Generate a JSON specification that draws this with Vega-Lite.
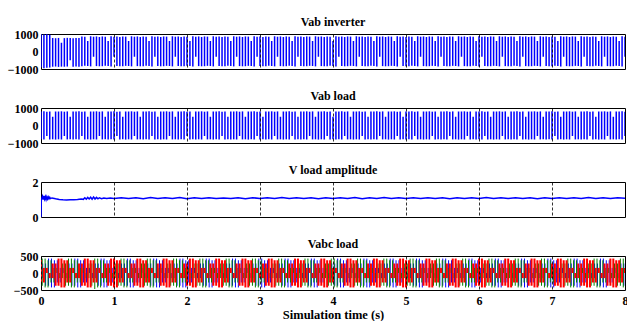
{
  "$schema": "https://vega.github.io/schema/vega-lite/v6.json",
  "padding": {"left": 6, "top": 15, "right": 0, "bottom": 0},
  "background": "white",
  "spacing": 13,
  "config": {
    "font": "Liberation Serif",
    "view": {"stroke": "black", "strokeWidth": 1},
    "axis": {"labelFont": "Liberation Serif", "titleFont": "Liberation Serif", "labelFontSize": 12, "labelFontWeight": "bold", "labelColor": "black", "titleFontSize": 12.5, "titleFontWeight": "bold", "titleColor": "black"},
    "title": {"font": "Liberation Serif", "fontSize": 12, "fontWeight": "bold", "color": "black", "offset": -1}
  },
  "datasets": {
    "w": [
{"t":0,"ah":990,"al":-900,"bh":800,"bl":-790,"ph":0,"pl":-150,"qh":425,"ql":-375,"rh":375,"rl":-280},
{"t":0.04,"ah":970,"al":-950,"bh":810,"bl":-800,"ph":280,"pl":-150,"qh":425,"ql":-425,"rh":150,"rl":-280},
{"t":0.08,"ah":985,"al":-930,"bh":790,"bl":-600,"ph":280,"pl":-375,"qh":375,"ql":-425,"rh":150,"rl":0},
{"t":0.12,"ah":960,"al":-920,"bh":805,"bl":-795,"ph":425,"pl":-375,"qh":375,"ql":-280,"rh":0,"rl":-150},
{"t":0.16,"ah":770,"al":-870,"bh":500,"bl":-790,"ph":425,"pl":-425,"qh":150,"ql":-280,"rh":280,"rl":-150},
{"t":0.2,"ah":760,"al":-860,"bh":800,"bl":-805,"ph":375,"pl":-425,"qh":150,"ql":0,"rh":280,"rl":-375},
{"t":0.24,"ah":775,"al":-880,"bh":800,"bl":-790,"ph":375,"pl":-280,"qh":0,"ql":-150,"rh":425,"rl":-375},
{"t":0.28,"ah":500,"al":-865,"bh":810,"bl":-800,"ph":150,"pl":-280,"qh":280,"ql":-150,"rh":425,"rl":-425},
{"t":0.32,"ah":765,"al":-870,"bh":790,"bl":-600,"ph":150,"pl":0,"qh":280,"ql":-375,"rh":375,"rl":-425},
{"t":0.36,"ah":780,"al":-860,"bh":805,"bl":-795,"ph":0,"pl":-150,"qh":425,"ql":-375,"rh":375,"rl":-280},
{"t":0.4,"ah":770,"al":-500,"bh":500,"bl":-790,"ph":280,"pl":-150,"qh":425,"ql":-425,"rh":150,"rl":-280},
{"t":0.44,"ah":760,"al":-875,"bh":800,"bl":-805,"ph":280,"pl":-375,"qh":375,"ql":-425,"rh":150,"rl":0},
{"t":0.48,"ah":775,"al":-860,"bh":800,"bl":-790,"ph":425,"pl":-375,"qh":375,"ql":-280,"rh":0,"rl":-150},
{"t":0.52,"ah":770,"al":-870,"bh":810,"bl":-800,"ph":425,"pl":-425,"qh":150,"ql":-280,"rh":280,"rl":-150},
{"t":0.56,"ah":860,"al":-840,"bh":790,"bl":-600,"ph":375,"pl":-425,"qh":150,"ql":0,"rh":280,"rl":-375},
{"t":0.6,"ah":850,"al":-820,"bh":805,"bl":-795,"ph":375,"pl":-280,"qh":0,"ql":-150,"rh":425,"rl":-375},
{"t":0.64,"ah":600,"al":-830,"bh":500,"bl":-790,"ph":150,"pl":-280,"qh":280,"ql":-150,"rh":425,"rl":-425},
{"t":0.68,"ah":870,"al":-850,"bh":800,"bl":-805,"ph":150,"pl":0,"qh":280,"ql":-375,"rh":375,"rl":-425},
{"t":0.72,"ah":845,"al":-300,"bh":800,"bl":-790,"ph":0,"pl":-150,"qh":425,"ql":-470,"rh":375,"rl":-280},
{"t":0.76,"ah":860,"al":-835,"bh":810,"bl":-800,"ph":280,"pl":-150,"qh":425,"ql":-425,"rh":150,"rl":-280},
{"t":0.8,"ah":830,"al":-845,"bh":790,"bl":-600,"ph":280,"pl":-375,"qh":375,"ql":-425,"rh":150,"rl":0},
{"t":0.84,"ah":860,"al":-840,"bh":805,"bl":-795,"ph":425,"pl":-375,"qh":375,"ql":-280,"rh":0,"rl":-150},
{"t":0.88,"ah":850,"al":-820,"bh":500,"bl":-790,"ph":425,"pl":-425,"qh":150,"ql":-280,"rh":280,"rl":-150},
{"t":0.92,"ah":600,"al":-830,"bh":800,"bl":-805,"ph":375,"pl":-425,"qh":150,"ql":0,"rh":280,"rl":-375},
{"t":0.96,"ah":870,"al":-850,"bh":800,"bl":-790,"ph":375,"pl":-280,"qh":0,"ql":-150,"rh":425,"rl":-375},
{"t":1,"ah":845,"al":-300,"bh":810,"bl":-800,"ph":150,"pl":-280,"qh":280,"ql":-150,"rh":425,"rl":-425},
{"t":1.04,"ah":860,"al":-835,"bh":790,"bl":-600,"ph":150,"pl":0,"qh":280,"ql":-375,"rh":375,"rl":-425},
{"t":1.08,"ah":830,"al":-845,"bh":805,"bl":-795,"ph":0,"pl":-150,"qh":425,"ql":-375,"rh":375,"rl":-280},
{"t":1.12,"ah":860,"al":-840,"bh":500,"bl":-790,"ph":280,"pl":-150,"qh":425,"ql":-425,"rh":150,"rl":-280},
{"t":1.16,"ah":850,"al":-820,"bh":800,"bl":-805,"ph":280,"pl":-375,"qh":375,"ql":-425,"rh":150,"rl":0},
{"t":1.2,"ah":600,"al":-830,"bh":800,"bl":-790,"ph":425,"pl":-375,"qh":375,"ql":-280,"rh":0,"rl":-150},
{"t":1.24,"ah":870,"al":-850,"bh":810,"bl":-800,"ph":425,"pl":-425,"qh":150,"ql":-280,"rh":280,"rl":-150},
{"t":1.28,"ah":845,"al":-300,"bh":790,"bl":-600,"ph":375,"pl":-425,"qh":150,"ql":0,"rh":280,"rl":-375},
{"t":1.32,"ah":860,"al":-835,"bh":805,"bl":-795,"ph":375,"pl":-280,"qh":0,"ql":-150,"rh":425,"rl":-375},
{"t":1.36,"ah":830,"al":-845,"bh":500,"bl":-790,"ph":150,"pl":-280,"qh":280,"ql":-150,"rh":425,"rl":-425},
{"t":1.4,"ah":860,"al":-840,"bh":800,"bl":-805,"ph":150,"pl":0,"qh":280,"ql":-375,"rh":375,"rl":-425},
{"t":1.44,"ah":850,"al":-820,"bh":800,"bl":-790,"ph":0,"pl":-150,"qh":425,"ql":-375,"rh":375,"rl":-280},
{"t":1.48,"ah":600,"al":-830,"bh":810,"bl":-800,"ph":280,"pl":-150,"qh":425,"ql":-425,"rh":150,"rl":-280},
{"t":1.52,"ah":870,"al":-850,"bh":790,"bl":-600,"ph":280,"pl":-375,"qh":375,"ql":-425,"rh":150,"rl":0},
{"t":1.56,"ah":845,"al":-300,"bh":805,"bl":-795,"ph":425,"pl":-375,"qh":375,"ql":-280,"rh":0,"rl":-150},
{"t":1.6,"ah":860,"al":-835,"bh":500,"bl":-790,"ph":425,"pl":-425,"qh":150,"ql":-280,"rh":280,"rl":-150},
{"t":1.64,"ah":830,"al":-845,"bh":800,"bl":-805,"ph":375,"pl":-425,"qh":150,"ql":0,"rh":280,"rl":-375},
{"t":1.68,"ah":860,"al":-840,"bh":800,"bl":-790,"ph":375,"pl":-280,"qh":0,"ql":-150,"rh":425,"rl":-375},
{"t":1.72,"ah":850,"al":-820,"bh":810,"bl":-800,"ph":150,"pl":-280,"qh":280,"ql":-150,"rh":425,"rl":-425},
{"t":1.76,"ah":600,"al":-830,"bh":790,"bl":-600,"ph":150,"pl":0,"qh":280,"ql":-375,"rh":375,"rl":-425},
{"t":1.8,"ah":870,"al":-850,"bh":805,"bl":-795,"ph":0,"pl":-150,"qh":425,"ql":-375,"rh":375,"rl":-280},
{"t":1.84,"ah":845,"al":-300,"bh":500,"bl":-790,"ph":280,"pl":-150,"qh":425,"ql":-425,"rh":150,"rl":-280},
{"t":1.88,"ah":860,"al":-835,"bh":800,"bl":-805,"ph":280,"pl":-375,"qh":375,"ql":-425,"rh":150,"rl":0},
{"t":1.92,"ah":830,"al":-845,"bh":800,"bl":-790,"ph":425,"pl":-375,"qh":375,"ql":-280,"rh":0,"rl":-150},
{"t":1.96,"ah":860,"al":-840,"bh":810,"bl":-800,"ph":425,"pl":-425,"qh":150,"ql":-280,"rh":280,"rl":-150},
{"t":2,"ah":850,"al":-820,"bh":790,"bl":-600,"ph":375,"pl":-425,"qh":150,"ql":0,"rh":280,"rl":-375},
{"t":2.04,"ah":600,"al":-830,"bh":805,"bl":-795,"ph":375,"pl":-280,"qh":0,"ql":-150,"rh":425,"rl":-375},
{"t":2.08,"ah":870,"al":-850,"bh":500,"bl":-790,"ph":150,"pl":-280,"qh":280,"ql":-150,"rh":425,"rl":-425},
{"t":2.12,"ah":845,"al":-300,"bh":800,"bl":-805,"ph":150,"pl":0,"qh":280,"ql":-375,"rh":375,"rl":-425},
{"t":2.16,"ah":860,"al":-835,"bh":800,"bl":-790,"ph":0,"pl":-150,"qh":425,"ql":-375,"rh":375,"rl":-280},
{"t":2.2,"ah":830,"al":-845,"bh":810,"bl":-800,"ph":280,"pl":-150,"qh":425,"ql":-425,"rh":150,"rl":-280},
{"t":2.24,"ah":860,"al":-840,"bh":790,"bl":-600,"ph":280,"pl":-375,"qh":375,"ql":-425,"rh":150,"rl":0},
{"t":2.28,"ah":850,"al":-820,"bh":805,"bl":-795,"ph":425,"pl":-375,"qh":375,"ql":-280,"rh":0,"rl":-150},
{"t":2.32,"ah":600,"al":-830,"bh":500,"bl":-790,"ph":425,"pl":-425,"qh":150,"ql":-280,"rh":280,"rl":-150},
{"t":2.36,"ah":870,"al":-850,"bh":800,"bl":-805,"ph":375,"pl":-425,"qh":150,"ql":0,"rh":280,"rl":-375},
{"t":2.4,"ah":845,"al":-300,"bh":800,"bl":-790,"ph":375,"pl":-280,"qh":0,"ql":-150,"rh":425,"rl":-375},
{"t":2.44,"ah":860,"al":-835,"bh":810,"bl":-800,"ph":150,"pl":-280,"qh":280,"ql":-150,"rh":425,"rl":-425},
{"t":2.48,"ah":830,"al":-845,"bh":790,"bl":-600,"ph":150,"pl":0,"qh":280,"ql":-375,"rh":375,"rl":-425},
{"t":2.52,"ah":860,"al":-840,"bh":805,"bl":-795,"ph":0,"pl":-150,"qh":425,"ql":-375,"rh":375,"rl":-280},
{"t":2.56,"ah":850,"al":-820,"bh":500,"bl":-790,"ph":280,"pl":-150,"qh":425,"ql":-425,"rh":150,"rl":-280},
{"t":2.6,"ah":600,"al":-830,"bh":800,"bl":-805,"ph":280,"pl":-375,"qh":375,"ql":-425,"rh":150,"rl":0},
{"t":2.64,"ah":870,"al":-850,"bh":800,"bl":-790,"ph":425,"pl":-375,"qh":375,"ql":-280,"rh":0,"rl":-150},
{"t":2.68,"ah":845,"al":-300,"bh":810,"bl":-800,"ph":425,"pl":-425,"qh":150,"ql":-280,"rh":280,"rl":-150},
{"t":2.72,"ah":860,"al":-835,"bh":790,"bl":-600,"ph":375,"pl":-425,"qh":150,"ql":0,"rh":280,"rl":-375},
{"t":2.76,"ah":830,"al":-845,"bh":805,"bl":-795,"ph":375,"pl":-280,"qh":0,"ql":-150,"rh":425,"rl":-375},
{"t":2.8,"ah":860,"al":-840,"bh":500,"bl":-790,"ph":150,"pl":-280,"qh":280,"ql":-150,"rh":425,"rl":-425},
{"t":2.84,"ah":850,"al":-820,"bh":800,"bl":-805,"ph":150,"pl":0,"qh":280,"ql":-375,"rh":375,"rl":-425},
{"t":2.88,"ah":600,"al":-830,"bh":800,"bl":-790,"ph":0,"pl":-150,"qh":425,"ql":-375,"rh":375,"rl":-280},
{"t":2.92,"ah":870,"al":-850,"bh":810,"bl":-800,"ph":280,"pl":-150,"qh":425,"ql":-425,"rh":150,"rl":-280},
{"t":2.96,"ah":845,"al":-300,"bh":790,"bl":-600,"ph":280,"pl":-375,"qh":375,"ql":-425,"rh":150,"rl":0},
{"t":3,"ah":860,"al":-835,"bh":805,"bl":-795,"ph":425,"pl":-375,"qh":375,"ql":-280,"rh":0,"rl":-150},
{"t":3.04,"ah":830,"al":-845,"bh":500,"bl":-790,"ph":425,"pl":-425,"qh":150,"ql":-280,"rh":280,"rl":-150},
{"t":3.08,"ah":860,"al":-840,"bh":800,"bl":-805,"ph":375,"pl":-425,"qh":150,"ql":0,"rh":280,"rl":-375},
{"t":3.12,"ah":850,"al":-820,"bh":800,"bl":-790,"ph":375,"pl":-280,"qh":0,"ql":-150,"rh":425,"rl":-375},
{"t":3.16,"ah":600,"al":-830,"bh":810,"bl":-800,"ph":150,"pl":-280,"qh":280,"ql":-150,"rh":425,"rl":-425},
{"t":3.2,"ah":870,"al":-850,"bh":790,"bl":-600,"ph":150,"pl":0,"qh":280,"ql":-375,"rh":375,"rl":-425},
{"t":3.24,"ah":845,"al":-300,"bh":805,"bl":-795,"ph":0,"pl":-150,"qh":425,"ql":-375,"rh":375,"rl":-280},
{"t":3.28,"ah":860,"al":-835,"bh":500,"bl":-790,"ph":280,"pl":-150,"qh":425,"ql":-425,"rh":150,"rl":-280},
{"t":3.32,"ah":830,"al":-845,"bh":800,"bl":-805,"ph":280,"pl":-375,"qh":375,"ql":-425,"rh":150,"rl":0},
{"t":3.36,"ah":860,"al":-840,"bh":800,"bl":-790,"ph":425,"pl":-375,"qh":375,"ql":-280,"rh":0,"rl":-150},
{"t":3.4,"ah":850,"al":-820,"bh":810,"bl":-800,"ph":425,"pl":-425,"qh":150,"ql":-280,"rh":280,"rl":-150},
{"t":3.44,"ah":600,"al":-830,"bh":790,"bl":-600,"ph":375,"pl":-425,"qh":150,"ql":0,"rh":280,"rl":-375},
{"t":3.48,"ah":870,"al":-850,"bh":805,"bl":-795,"ph":375,"pl":-280,"qh":0,"ql":-150,"rh":425,"rl":-375},
{"t":3.52,"ah":845,"al":-300,"bh":500,"bl":-790,"ph":150,"pl":-280,"qh":280,"ql":-150,"rh":425,"rl":-425},
{"t":3.56,"ah":860,"al":-835,"bh":800,"bl":-805,"ph":150,"pl":0,"qh":280,"ql":-375,"rh":375,"rl":-425},
{"t":3.6,"ah":830,"al":-845,"bh":800,"bl":-790,"ph":0,"pl":-150,"qh":425,"ql":-375,"rh":375,"rl":-280},
{"t":3.64,"ah":860,"al":-840,"bh":810,"bl":-800,"ph":280,"pl":-150,"qh":425,"ql":-425,"rh":150,"rl":-280},
{"t":3.68,"ah":850,"al":-820,"bh":790,"bl":-600,"ph":280,"pl":-375,"qh":375,"ql":-425,"rh":150,"rl":0},
{"t":3.72,"ah":600,"al":-830,"bh":805,"bl":-795,"ph":425,"pl":-375,"qh":375,"ql":-280,"rh":0,"rl":-150},
{"t":3.76,"ah":870,"al":-850,"bh":500,"bl":-790,"ph":425,"pl":-425,"qh":150,"ql":-280,"rh":280,"rl":-150},
{"t":3.8,"ah":845,"al":-300,"bh":800,"bl":-805,"ph":375,"pl":-425,"qh":150,"ql":0,"rh":280,"rl":-375},
{"t":3.84,"ah":860,"al":-835,"bh":800,"bl":-790,"ph":375,"pl":-280,"qh":0,"ql":-150,"rh":425,"rl":-375},
{"t":3.88,"ah":830,"al":-845,"bh":810,"bl":-800,"ph":150,"pl":-280,"qh":280,"ql":-150,"rh":425,"rl":-425},
{"t":3.92,"ah":860,"al":-840,"bh":790,"bl":-600,"ph":150,"pl":0,"qh":280,"ql":-375,"rh":375,"rl":-425},
{"t":3.96,"ah":850,"al":-820,"bh":805,"bl":-795,"ph":0,"pl":-150,"qh":425,"ql":-375,"rh":375,"rl":-280},
{"t":4,"ah":600,"al":-830,"bh":500,"bl":-790,"ph":280,"pl":-150,"qh":425,"ql":-425,"rh":150,"rl":-280},
{"t":4.04,"ah":870,"al":-850,"bh":800,"bl":-805,"ph":280,"pl":-375,"qh":375,"ql":-425,"rh":150,"rl":0},
{"t":4.08,"ah":845,"al":-300,"bh":800,"bl":-790,"ph":425,"pl":-375,"qh":375,"ql":-280,"rh":0,"rl":-150},
{"t":4.12,"ah":860,"al":-835,"bh":810,"bl":-800,"ph":425,"pl":-425,"qh":150,"ql":-280,"rh":280,"rl":-150},
{"t":4.16,"ah":830,"al":-845,"bh":790,"bl":-600,"ph":375,"pl":-425,"qh":150,"ql":0,"rh":280,"rl":-375},
{"t":4.2,"ah":860,"al":-840,"bh":805,"bl":-795,"ph":375,"pl":-280,"qh":0,"ql":-150,"rh":425,"rl":-375},
{"t":4.24,"ah":850,"al":-820,"bh":500,"bl":-790,"ph":150,"pl":-280,"qh":280,"ql":-150,"rh":425,"rl":-425},
{"t":4.28,"ah":600,"al":-830,"bh":800,"bl":-805,"ph":150,"pl":0,"qh":280,"ql":-375,"rh":375,"rl":-425},
{"t":4.32,"ah":870,"al":-850,"bh":800,"bl":-790,"ph":0,"pl":-150,"qh":425,"ql":-375,"rh":375,"rl":-280},
{"t":4.36,"ah":845,"al":-300,"bh":810,"bl":-800,"ph":280,"pl":-150,"qh":425,"ql":-425,"rh":150,"rl":-280},
{"t":4.4,"ah":860,"al":-835,"bh":790,"bl":-600,"ph":280,"pl":-375,"qh":375,"ql":-425,"rh":150,"rl":0},
{"t":4.44,"ah":830,"al":-845,"bh":805,"bl":-795,"ph":425,"pl":-375,"qh":375,"ql":-280,"rh":0,"rl":-150},
{"t":4.48,"ah":860,"al":-840,"bh":500,"bl":-790,"ph":425,"pl":-425,"qh":150,"ql":-280,"rh":280,"rl":-150},
{"t":4.52,"ah":850,"al":-820,"bh":800,"bl":-805,"ph":375,"pl":-425,"qh":150,"ql":0,"rh":280,"rl":-375},
{"t":4.56,"ah":600,"al":-830,"bh":800,"bl":-790,"ph":375,"pl":-280,"qh":0,"ql":-150,"rh":425,"rl":-375},
{"t":4.6,"ah":870,"al":-850,"bh":810,"bl":-800,"ph":150,"pl":-280,"qh":280,"ql":-150,"rh":425,"rl":-425},
{"t":4.64,"ah":845,"al":-300,"bh":790,"bl":-600,"ph":150,"pl":0,"qh":280,"ql":-375,"rh":375,"rl":-425},
{"t":4.68,"ah":860,"al":-835,"bh":805,"bl":-795,"ph":0,"pl":-150,"qh":425,"ql":-375,"rh":375,"rl":-280},
{"t":4.72,"ah":830,"al":-845,"bh":500,"bl":-790,"ph":280,"pl":-150,"qh":425,"ql":-425,"rh":150,"rl":-280},
{"t":4.76,"ah":860,"al":-840,"bh":800,"bl":-805,"ph":280,"pl":-375,"qh":375,"ql":-425,"rh":150,"rl":0},
{"t":4.8,"ah":850,"al":-820,"bh":800,"bl":-790,"ph":425,"pl":-375,"qh":375,"ql":-280,"rh":0,"rl":-150},
{"t":4.84,"ah":600,"al":-830,"bh":810,"bl":-800,"ph":425,"pl":-425,"qh":150,"ql":-280,"rh":280,"rl":-150},
{"t":4.88,"ah":870,"al":-850,"bh":790,"bl":-600,"ph":375,"pl":-425,"qh":150,"ql":0,"rh":280,"rl":-375},
{"t":4.92,"ah":845,"al":-300,"bh":805,"bl":-795,"ph":375,"pl":-280,"qh":0,"ql":-150,"rh":425,"rl":-375},
{"t":4.96,"ah":860,"al":-835,"bh":500,"bl":-790,"ph":150,"pl":-280,"qh":280,"ql":-150,"rh":425,"rl":-425},
{"t":5,"ah":830,"al":-845,"bh":800,"bl":-805,"ph":150,"pl":0,"qh":280,"ql":-375,"rh":375,"rl":-425},
{"t":5.04,"ah":860,"al":-840,"bh":800,"bl":-790,"ph":0,"pl":-150,"qh":425,"ql":-375,"rh":375,"rl":-280},
{"t":5.08,"ah":850,"al":-820,"bh":810,"bl":-800,"ph":280,"pl":-150,"qh":425,"ql":-425,"rh":150,"rl":-280},
{"t":5.12,"ah":600,"al":-830,"bh":790,"bl":-600,"ph":280,"pl":-375,"qh":375,"ql":-425,"rh":150,"rl":0},
{"t":5.16,"ah":870,"al":-850,"bh":805,"bl":-795,"ph":425,"pl":-375,"qh":375,"ql":-280,"rh":0,"rl":-150},
{"t":5.2,"ah":845,"al":-300,"bh":500,"bl":-790,"ph":425,"pl":-425,"qh":150,"ql":-280,"rh":280,"rl":-150},
{"t":5.24,"ah":860,"al":-835,"bh":800,"bl":-805,"ph":375,"pl":-425,"qh":150,"ql":0,"rh":280,"rl":-375},
{"t":5.28,"ah":830,"al":-845,"bh":800,"bl":-790,"ph":375,"pl":-280,"qh":0,"ql":-150,"rh":425,"rl":-375},
{"t":5.32,"ah":860,"al":-840,"bh":810,"bl":-800,"ph":150,"pl":-280,"qh":280,"ql":-150,"rh":425,"rl":-425},
{"t":5.36,"ah":850,"al":-820,"bh":790,"bl":-600,"ph":150,"pl":0,"qh":280,"ql":-375,"rh":375,"rl":-425},
{"t":5.4,"ah":600,"al":-830,"bh":805,"bl":-795,"ph":0,"pl":-150,"qh":425,"ql":-375,"rh":375,"rl":-280},
{"t":5.44,"ah":870,"al":-850,"bh":500,"bl":-790,"ph":280,"pl":-150,"qh":425,"ql":-425,"rh":150,"rl":-280},
{"t":5.48,"ah":845,"al":-300,"bh":800,"bl":-805,"ph":280,"pl":-375,"qh":375,"ql":-425,"rh":150,"rl":0},
{"t":5.52,"ah":860,"al":-835,"bh":800,"bl":-790,"ph":425,"pl":-375,"qh":375,"ql":-280,"rh":0,"rl":-150},
{"t":5.56,"ah":830,"al":-845,"bh":810,"bl":-800,"ph":425,"pl":-425,"qh":150,"ql":-280,"rh":280,"rl":-150},
{"t":5.6,"ah":860,"al":-840,"bh":790,"bl":-600,"ph":375,"pl":-425,"qh":150,"ql":0,"rh":280,"rl":-375},
{"t":5.64,"ah":850,"al":-820,"bh":805,"bl":-795,"ph":375,"pl":-280,"qh":0,"ql":-150,"rh":425,"rl":-375},
{"t":5.68,"ah":600,"al":-830,"bh":500,"bl":-790,"ph":150,"pl":-280,"qh":280,"ql":-150,"rh":425,"rl":-425},
{"t":5.72,"ah":870,"al":-850,"bh":800,"bl":-805,"ph":150,"pl":0,"qh":280,"ql":-375,"rh":375,"rl":-425},
{"t":5.76,"ah":845,"al":-300,"bh":800,"bl":-790,"ph":0,"pl":-150,"qh":425,"ql":-375,"rh":375,"rl":-280},
{"t":5.8,"ah":860,"al":-835,"bh":810,"bl":-800,"ph":280,"pl":-150,"qh":425,"ql":-425,"rh":150,"rl":-280},
{"t":5.84,"ah":830,"al":-845,"bh":790,"bl":-600,"ph":280,"pl":-375,"qh":375,"ql":-425,"rh":150,"rl":0},
{"t":5.88,"ah":860,"al":-840,"bh":805,"bl":-795,"ph":425,"pl":-375,"qh":375,"ql":-280,"rh":0,"rl":-150},
{"t":5.92,"ah":850,"al":-820,"bh":500,"bl":-790,"ph":425,"pl":-425,"qh":150,"ql":-280,"rh":280,"rl":-150},
{"t":5.96,"ah":600,"al":-830,"bh":800,"bl":-805,"ph":375,"pl":-425,"qh":150,"ql":0,"rh":280,"rl":-375},
{"t":6,"ah":870,"al":-850,"bh":800,"bl":-790,"ph":375,"pl":-280,"qh":0,"ql":-150,"rh":425,"rl":-375},
{"t":6.04,"ah":845,"al":-300,"bh":810,"bl":-800,"ph":150,"pl":-280,"qh":280,"ql":-150,"rh":425,"rl":-425},
{"t":6.08,"ah":860,"al":-835,"bh":790,"bl":-600,"ph":150,"pl":0,"qh":280,"ql":-375,"rh":375,"rl":-425},
{"t":6.12,"ah":830,"al":-845,"bh":805,"bl":-795,"ph":0,"pl":-150,"qh":425,"ql":-375,"rh":375,"rl":-280},
{"t":6.16,"ah":860,"al":-840,"bh":500,"bl":-790,"ph":280,"pl":-150,"qh":425,"ql":-425,"rh":150,"rl":-280},
{"t":6.2,"ah":850,"al":-820,"bh":800,"bl":-805,"ph":280,"pl":-375,"qh":375,"ql":-425,"rh":150,"rl":0},
{"t":6.24,"ah":600,"al":-830,"bh":800,"bl":-790,"ph":425,"pl":-375,"qh":375,"ql":-280,"rh":0,"rl":-150},
{"t":6.28,"ah":870,"al":-850,"bh":810,"bl":-800,"ph":425,"pl":-425,"qh":150,"ql":-280,"rh":280,"rl":-150},
{"t":6.32,"ah":845,"al":-300,"bh":790,"bl":-600,"ph":375,"pl":-425,"qh":150,"ql":0,"rh":280,"rl":-375},
{"t":6.36,"ah":860,"al":-835,"bh":805,"bl":-795,"ph":375,"pl":-280,"qh":0,"ql":-150,"rh":425,"rl":-375},
{"t":6.4,"ah":830,"al":-845,"bh":500,"bl":-790,"ph":150,"pl":-280,"qh":280,"ql":-150,"rh":425,"rl":-425},
{"t":6.44,"ah":860,"al":-840,"bh":800,"bl":-805,"ph":150,"pl":0,"qh":280,"ql":-375,"rh":375,"rl":-425},
{"t":6.48,"ah":850,"al":-820,"bh":800,"bl":-790,"ph":0,"pl":-150,"qh":425,"ql":-375,"rh":375,"rl":-280},
{"t":6.52,"ah":600,"al":-830,"bh":810,"bl":-800,"ph":280,"pl":-150,"qh":425,"ql":-425,"rh":150,"rl":-280},
{"t":6.56,"ah":870,"al":-850,"bh":790,"bl":-600,"ph":280,"pl":-375,"qh":375,"ql":-425,"rh":150,"rl":0},
{"t":6.6,"ah":845,"al":-300,"bh":805,"bl":-795,"ph":425,"pl":-375,"qh":375,"ql":-280,"rh":0,"rl":-150},
{"t":6.64,"ah":860,"al":-835,"bh":500,"bl":-790,"ph":425,"pl":-425,"qh":150,"ql":-280,"rh":280,"rl":-150},
{"t":6.68,"ah":830,"al":-845,"bh":800,"bl":-805,"ph":375,"pl":-425,"qh":150,"ql":0,"rh":280,"rl":-375},
{"t":6.72,"ah":860,"al":-840,"bh":800,"bl":-790,"ph":375,"pl":-280,"qh":0,"ql":-150,"rh":425,"rl":-375},
{"t":6.76,"ah":850,"al":-820,"bh":810,"bl":-800,"ph":150,"pl":-280,"qh":280,"ql":-150,"rh":425,"rl":-425},
{"t":6.8,"ah":600,"al":-830,"bh":790,"bl":-600,"ph":150,"pl":0,"qh":280,"ql":-375,"rh":375,"rl":-425},
{"t":6.84,"ah":870,"al":-850,"bh":805,"bl":-795,"ph":0,"pl":-150,"qh":425,"ql":-375,"rh":375,"rl":-280},
{"t":6.88,"ah":845,"al":-300,"bh":500,"bl":-790,"ph":280,"pl":-150,"qh":425,"ql":-425,"rh":150,"rl":-280},
{"t":6.92,"ah":860,"al":-835,"bh":800,"bl":-805,"ph":280,"pl":-375,"qh":375,"ql":-425,"rh":150,"rl":0},
{"t":6.96,"ah":830,"al":-845,"bh":800,"bl":-790,"ph":425,"pl":-375,"qh":375,"ql":-280,"rh":0,"rl":-150},
{"t":7,"ah":860,"al":-840,"bh":810,"bl":-800,"ph":425,"pl":-425,"qh":150,"ql":-280,"rh":280,"rl":-150},
{"t":7.04,"ah":850,"al":-820,"bh":790,"bl":-600,"ph":375,"pl":-425,"qh":150,"ql":0,"rh":280,"rl":-375},
{"t":7.08,"ah":600,"al":-830,"bh":805,"bl":-795,"ph":375,"pl":-280,"qh":0,"ql":-150,"rh":425,"rl":-375},
{"t":7.12,"ah":870,"al":-850,"bh":500,"bl":-790,"ph":150,"pl":-280,"qh":280,"ql":-150,"rh":425,"rl":-425},
{"t":7.16,"ah":845,"al":-300,"bh":800,"bl":-805,"ph":150,"pl":0,"qh":280,"ql":-375,"rh":375,"rl":-425},
{"t":7.2,"ah":860,"al":-835,"bh":800,"bl":-790,"ph":0,"pl":-150,"qh":425,"ql":-375,"rh":375,"rl":-280},
{"t":7.24,"ah":830,"al":-845,"bh":810,"bl":-800,"ph":280,"pl":-150,"qh":425,"ql":-425,"rh":150,"rl":-280},
{"t":7.28,"ah":860,"al":-840,"bh":790,"bl":-600,"ph":280,"pl":-375,"qh":375,"ql":-425,"rh":150,"rl":0},
{"t":7.32,"ah":850,"al":-820,"bh":805,"bl":-795,"ph":425,"pl":-375,"qh":375,"ql":-280,"rh":0,"rl":-150},
{"t":7.36,"ah":600,"al":-830,"bh":500,"bl":-790,"ph":425,"pl":-425,"qh":150,"ql":-280,"rh":280,"rl":-150},
{"t":7.4,"ah":870,"al":-850,"bh":800,"bl":-805,"ph":375,"pl":-425,"qh":150,"ql":0,"rh":280,"rl":-375},
{"t":7.44,"ah":845,"al":-300,"bh":800,"bl":-790,"ph":375,"pl":-280,"qh":0,"ql":-150,"rh":425,"rl":-375},
{"t":7.48,"ah":860,"al":-835,"bh":810,"bl":-800,"ph":150,"pl":-280,"qh":280,"ql":-150,"rh":425,"rl":-425},
{"t":7.52,"ah":830,"al":-845,"bh":790,"bl":-600,"ph":150,"pl":0,"qh":280,"ql":-375,"rh":375,"rl":-425},
{"t":7.56,"ah":860,"al":-840,"bh":805,"bl":-795,"ph":0,"pl":-150,"qh":425,"ql":-375,"rh":375,"rl":-280},
{"t":7.6,"ah":850,"al":-820,"bh":500,"bl":-790,"ph":280,"pl":-150,"qh":425,"ql":-425,"rh":150,"rl":-280},
{"t":7.64,"ah":600,"al":-830,"bh":800,"bl":-805,"ph":280,"pl":-375,"qh":375,"ql":-425,"rh":150,"rl":0},
{"t":7.68,"ah":870,"al":-850,"bh":800,"bl":-790,"ph":425,"pl":-375,"qh":375,"ql":-280,"rh":0,"rl":-150},
{"t":7.72,"ah":845,"al":-300,"bh":810,"bl":-800,"ph":425,"pl":-425,"qh":150,"ql":-280,"rh":280,"rl":-150},
{"t":7.76,"ah":860,"al":-835,"bh":790,"bl":-600,"ph":375,"pl":-425,"qh":150,"ql":0,"rh":280,"rl":-375},
{"t":7.8,"ah":830,"al":-845,"bh":805,"bl":-795,"ph":375,"pl":-280,"qh":0,"ql":-150,"rh":425,"rl":-375},
{"t":7.84,"ah":860,"al":-840,"bh":500,"bl":-790,"ph":150,"pl":-280,"qh":280,"ql":-150,"rh":425,"rl":-425},
{"t":7.88,"ah":850,"al":-820,"bh":800,"bl":-805,"ph":150,"pl":0,"qh":280,"ql":-375,"rh":375,"rl":-425},
{"t":7.92,"ah":600,"al":-830,"bh":800,"bl":-790,"ph":0,"pl":-150,"qh":425,"ql":-375,"rh":375,"rl":-280},
{"t":7.96,"ah":870,"al":-850,"bh":810,"bl":-800,"ph":280,"pl":-150,"qh":425,"ql":-425,"rh":150,"rl":-280},
{"t":8,"ah":845,"al":-300,"bh":790,"bl":-600,"ph":280,"pl":-375,"qh":375,"ql":-425,"rh":150,"rl":0}
    ],
    "amp": [
      {"t":0,"v":0},{"t":0.005,"v":1.1},{"t":0.01,"v":1.05},{"t":0.02,"v":1.18},{"t":0.03,"v":1.0},
      {"t":0.04,"v":1.2},{"t":0.05,"v":1.02},{"t":0.06,"v":1.16},{"t":0.07,"v":1.0},{"t":0.08,"v":1.15},
      {"t":0.09,"v":1.03},{"t":0.1,"v":1.14},{"t":0.11,"v":1.04},{"t":0.12,"v":1.12},{"t":0.13,"v":1.05},
      {"t":0.15,"v":1.09},{"t":0.2,"v":1.04},{"t":0.25,"v":1.0},{"t":0.3,"v":0.98},{"t":0.35,"v":0.97},
      {"t":0.4,"v":0.98},{"t":0.45,"v":0.99},{"t":0.5,"v":1.0},{"t":0.55,"v":1.03},{"t":0.58,"v":1.01},
      {"t":0.6,"v":1.1},{"t":0.62,"v":1.02},{"t":0.64,"v":1.12},{"t":0.66,"v":1.03},{"t":0.68,"v":1.13},
      {"t":0.7,"v":1.02},{"t":0.72,"v":1.14},{"t":0.74,"v":1.03},{"t":0.76,"v":1.12},{"t":0.78,"v":1.04},
      {"t":0.8,"v":1.1},{"t":0.83,"v":1.05},{"t":0.86,"v":1.09},{"t":0.9,"v":1.06},{"t":0.95,"v":1.09},
      {"t":1.0,"v":1.06},{"t":1.1,"v":1.1},{"t":1.2,"v":1.06},{"t":1.3,"v":1.1},{"t":1.4,"v":1.05},
      {"t":1.5,"v":1.11},{"t":1.6,"v":1.06},{"t":1.7,"v":1.1},{"t":1.8,"v":1.06},{"t":1.9,"v":1.12},
      {"t":2.0,"v":1.05},{"t":2.1,"v":1.1},{"t":2.2,"v":1.06},{"t":2.3,"v":1.1},{"t":2.4,"v":1.06},
      {"t":2.5,"v":1.09},{"t":2.6,"v":1.06},{"t":2.7,"v":1.1},{"t":2.8,"v":1.05},{"t":2.9,"v":1.1},
      {"t":3.0,"v":1.06},{"t":3.1,"v":1.1},{"t":3.2,"v":1.06},{"t":3.3,"v":1.11},{"t":3.4,"v":1.06},
      {"t":3.5,"v":1.1},{"t":3.6,"v":1.06},{"t":3.7,"v":1.1},{"t":3.8,"v":1.05},{"t":3.9,"v":1.1},
      {"t":4.0,"v":1.06},{"t":4.1,"v":1.1},{"t":4.2,"v":1.06},{"t":4.3,"v":1.12},{"t":4.4,"v":1.05},
      {"t":4.5,"v":1.1},{"t":4.6,"v":1.06},{"t":4.7,"v":1.11},{"t":4.8,"v":1.06},{"t":4.9,"v":1.1},
      {"t":5.0,"v":1.06},{"t":5.1,"v":1.1},{"t":5.2,"v":1.06},{"t":5.3,"v":1.1},{"t":5.4,"v":1.06},
      {"t":5.5,"v":1.1},{"t":5.6,"v":1.05},{"t":5.7,"v":1.1},{"t":5.8,"v":1.06},{"t":5.9,"v":1.1},
      {"t":6.0,"v":1.06},{"t":6.1,"v":1.11},{"t":6.2,"v":1.06},{"t":6.3,"v":1.1},{"t":6.4,"v":1.06},
      {"t":6.5,"v":1.1},{"t":6.6,"v":1.06},{"t":6.7,"v":1.1},{"t":6.8,"v":1.05},{"t":6.9,"v":1.1},
      {"t":7.0,"v":1.06},{"t":7.1,"v":1.1},{"t":7.2,"v":1.06},{"t":7.3,"v":1.1},{"t":7.4,"v":1.06},
      {"t":7.5,"v":1.11},{"t":7.6,"v":1.06},{"t":7.7,"v":1.1},{"t":7.8,"v":1.06},{"t":7.9,"v":1.1},
      {"t":8.0,"v":1.07}
    ]
  },
  "vconcat": [
    {
      "title": "Vab inverter",
      "width": 584, "height": 35,
      "data": {"name": "w"},
      "mark": {"type": "rule", "color": "#0000ff", "strokeWidth": 1.5, "clip": true},
      "encoding": {
        "x": {"field": "t", "type": "quantitative", "scale": {"domain": [0, 8], "nice": false},
              "axis": {"labels": false, "ticks": false, "domain": false, "title": null, "labelPadding": 0, "tickSize": 0, "grid": true, "gridColor": "black", "gridDash": [3, 2], "gridOpacity": 0.8, "values": [1,2,3,4,5,6,7], "zindex": 1}},
        "y": {"field": "al", "type": "quantitative", "scale": {"domain": [-1000, 1000], "nice": false},
              "axis": {"values": [-1000, 0, 1000], "format": "d", "grid": false, "ticks": false, "domain": false, "title": null, "labelPadding": 3}},
        "y2": {"field": "ah"}
      }
    },
    {
      "title": "Vab load",
      "width": 584, "height": 35,
      "data": {"name": "w"},
      "mark": {"type": "rule", "color": "#0000ff", "strokeWidth": 1.5, "clip": true},
      "encoding": {
        "x": {"field": "t", "type": "quantitative", "scale": {"domain": [0, 8], "nice": false},
              "axis": {"labels": false, "ticks": false, "domain": false, "title": null, "labelPadding": 0, "tickSize": 0, "grid": true, "gridColor": "black", "gridDash": [3, 2], "gridOpacity": 0.8, "values": [1,2,3,4,5,6,7], "zindex": 1}},
        "y": {"field": "bl", "type": "quantitative", "scale": {"domain": [-1000, 1000], "nice": false},
              "axis": {"values": [-1000, 0, 1000], "format": "d", "grid": false, "ticks": false, "domain": false, "title": null, "labelPadding": 3}},
        "y2": {"field": "bh"}
      }
    },
    {
      "title": "V load amplitude",
      "width": 584, "height": 35,
      "data": {"name": "amp"},
      "mark": {"type": "line", "color": "#0000ff", "strokeWidth": 1.5, "clip": true},
      "encoding": {
        "x": {"field": "t", "type": "quantitative", "scale": {"domain": [0, 8], "nice": false},
              "axis": {"labels": false, "ticks": false, "domain": false, "title": null, "labelPadding": 0, "tickSize": 0, "grid": true, "gridColor": "black", "gridDash": [3, 2], "gridOpacity": 0.8, "values": [1,2,3,4,5,6,7], "zindex": 1}},
        "y": {"field": "v", "type": "quantitative", "scale": {"domain": [0, 2], "nice": false},
              "axis": {"values": [0, 1, 2], "format": "d", "grid": false, "ticks": false, "domain": false, "title": null, "labelPadding": 3}}
      }
    },
    {
      "title": "Vabc load",
      "width": 584, "height": 34,
      "data": {"name": "w"},
      "encoding": {
        "x": {"field": "t", "type": "quantitative", "scale": {"domain": [0, 8], "nice": false},
              "axis": {"values": [0,1,2,3,4,5,6,7,8], "format": "d", "labelFlush": false, "ticks": false, "domain": false, "title": "Simulation time (s)", "titlePadding": 2, "labelPadding": 5, "grid": true, "gridColor": "black", "gridDash": [3, 2], "gridOpacity": 0.8, "zindex": 1}}
      },
      "layer": [
        {
          "mark": {"type": "rule", "color": "#0000ff", "strokeWidth": 1, "xOffset": -1.2, "clip": true},
          "encoding": {
            "y": {"field": "pl", "type": "quantitative", "scale": {"domain": [-500, 500], "nice": false},
                  "axis": {"values": [-500, 0, 500], "format": "d", "grid": false, "ticks": false, "domain": false, "title": null, "labelPadding": 3}},
            "y2": {"field": "ph"}
          }
        },
        {
          "mark": {"type": "rule", "color": "#008000", "strokeWidth": 1, "xOffset": 1.2, "clip": true},
          "encoding": {
            "y": {"field": "ql", "type": "quantitative", "scale": {"domain": [-500, 500], "nice": false},
                  "axis": {"values": [-500, 0, 500], "format": "d", "grid": false, "ticks": false, "domain": false, "title": null, "labelPadding": 3}},
            "y2": {"field": "qh"}
          }
        },
        {
          "mark": {"type": "rule", "color": "#ff0000", "strokeWidth": 2, "xOffset": 0, "clip": true},
          "encoding": {
            "y": {"field": "rl", "type": "quantitative", "scale": {"domain": [-500, 500], "nice": false},
                  "axis": {"values": [-500, 0, 500], "format": "d", "grid": false, "ticks": false, "domain": false, "title": null, "labelPadding": 3}},
            "y2": {"field": "rh"}
          }
        }
      ]
    }
  ]
}
